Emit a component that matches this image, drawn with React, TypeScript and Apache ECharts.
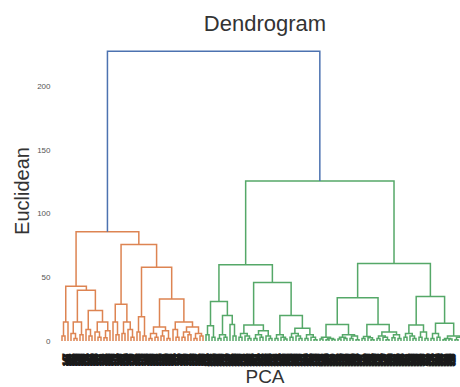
import React, { useEffect, useRef } from "react";
import * as echarts from "echarts";

// Dendrogram structure: a node is [mergeHeight, left, right]; a leaf is its sample id.
type Node = number | [number, Node, Node];

const orangeA: Node = [43,
  [15, [4, 112, 147], 103],
  [40,
    [15, [6, 131, [2, 158, 120]], [5, 166, 109]],
    [24,
      [9, 174, [4, 101, 139]],
      [15, [7, 155, [3, 127, 118]], [8, [2.5, 162, 143], 106]]
    ]
  ]
];

const orangeB: Node = [76,
  [29,
    [15, 170, [5, 114, 135]],
    [15, [6, 152, 124], [9, 168, [3, 110, 141]]]
  ],
  [58,
    [19, [7, 133, 176], [4, 116, 160]],
    [33,
      [11, [6, [2, 105, 149], [3, 128, 171]], [8, [4, 137, 122], [2, 157, 145]]],
      [15, [9, 164, [3, 111, 130]], [11, [7, [3, 153, 119], [5, 172, 138]], [6, [2, 126, 161], [4, 108, 150]]]]
    ]
  ]
];

const greenC: Node = [60,
  [31,
    [12, [5, 214, 263], [3, 231, 287]],
    [20, [5, [2, 205, 249], [3, 272, 226]], [13, 291, [4, 238, 256]]]
  ],
  [46,
    [12.6, [6, [3, 219, 278], [4, 243, [2, 296, 208]]], [8, [5, [2, 267, 234], [3, 282, 212]], [4, 253, [2, 299, 227]]]],
    [20, [5, [2, 245, 274], [3, 203, [1.5, 289, 260]]], [10, [6, [3, 216, 285], [4, 239, [2, 270, 222]]], [5, [2, 294, 251], [3, 209, [1, 276, 236]]]]]
  ]
];

const greenD: Node = [61,
  [34,
    [13, [3, [1.5, 318, 342], [2, [1, 305, 367], [1.2, 329, 351]]], [5, [3, [1.5, 312, 376], [2, 338, 360]], [4, [2, 302, 385], [1, 323, 347]]]],
    [13, [3.5, [2, 371, 309], [2.5, 356, [1, 334, 389]]], [7, [4, [2, 315, 344], [3, 379, [1, 301, 362]]], [5, [2.5, 327, 392], [2, 340, 353]]]]
  ],
  [35,
    [12.6, [6, [3, 307, 383], [4, 336, [2, 369, 320]]], [7, [3, 358, 395], [2, 311, 346]]],
    [14, [6, [2, 374, 331], [3, 364, 398]], [4, [2, [1, 317, 350], [1.5, 386, 325]], [3, [1, 303, 377], [2, 341, [1, 366, 394]]]]]
  ]
];

const orangeTopHeight = 86;
const greenTopHeight = 126;
const rootHeight = 228;

const yTicks = [0, 50, 100, 150, 200];
const palette = ["#4c72b0", "#dd8452", "#55a868"];

// Build links from the tree (layout only).
const leafIds: string[] = [];
const links: number[][] = [];
function walk(node: Node, colorIdx: number): { x: number; h: number } {
  if (typeof node === "number") {
    const x = leafIds.length + 0.5;
    leafIds.push(String(node));
    return { x, h: 0 };
  }
  const [h, a, b] = node;
  const l = walk(a, colorIdx);
  const r = walk(b, colorIdx);
  links.push([l.x, l.h, r.x, r.h, h, colorIdx]);
  return { x: (l.x + r.x) / 2, h };
}
const oTop = walk([orangeTopHeight, orangeA, orangeB], 1);
const gTop = walk([greenTopHeight, greenC, greenD], 2);
links.push([oTop.x, oTop.h, gTop.x, gTop.h, rootHeight, 0]);

const FONT = "Liberation Sans, Arial, sans-serif";
const GRID_LEFT = 60.5;
const LEAF_PX = 3;
const VISIBLE_WIDTH = 460;

export default function App() {
  const ref = useRef<HTMLDivElement>(null);
  useEffect(() => {
    document.body.style.margin = "0";
    if (!ref.current) return;
    const chart = echarts.init(ref.current, null, { renderer: "svg" });
    const n = leafIds.length;
    chart.setOption({
      animation: false,
      backgroundColor: "#ffffff",
      textStyle: { fontFamily: FONT },
      grid: { left: GRID_LEFT, top: 36, width: n * LEAF_PX, height: 305 },
      xAxis: [
        { type: "value", min: 0, max: n, show: false },
        {
          type: "category",
          data: leafIds,
          position: "bottom",
          boundaryGap: true,
          axisLine: { show: false },
          axisTick: { show: false },
          splitLine: { show: false },
          axisLabel: {
            // only labels that fit inside the visible page
            interval: (i: number) => GRID_LEFT + (i + 0.5) * LEAF_PX + 4 <= VISIBLE_WIDTH,
            rotate: 90,
            fontSize: 7,
            fontWeight: "bold",
            margin: 13,
            color: "#1a1a1a",
            textBorderColor: "#1a1a1a",
            textBorderWidth: 1.6,
            fontFamily: FONT,
          },
        },
      ],
      yAxis: {
        type: "value",
        min: 0,
        max: 240,
        interval: 50,
        axisLine: { show: false },
        axisTick: { show: false },
        splitLine: { show: false },
        axisLabel: {
          fontSize: 8,
          color: "#555555",
          margin: 10,
          fontFamily: FONT,
          formatter: (v: number) => (yTicks.includes(v) ? String(v) : ""),
        },
      },
      series: [
        {
          type: "custom",
          xAxisIndex: 0,
          yAxisIndex: 0,
          data: links,
          encode: { x: [0, 2], y: [1, 3, 4] },
          renderItem: (_params: any, api: any) => {
            const p1 = api.coord([api.value(0), api.value(1)]);
            const p2 = api.coord([api.value(0), api.value(4)]);
            const p3 = api.coord([api.value(2), api.value(4)]);
            const p4 = api.coord([api.value(2), api.value(3)]);
            return {
              type: "polyline",
              shape: { points: [p1, p2, p3, p4] },
              style: { stroke: palette[api.value(5)], fill: "none", lineWidth: 1.5 },
            };
          },
        },
      ],
      graphic: [
        {
          type: "text",
          x: 265,
          y: 23,
          style: {
            text: "Dendrogram",
            fontSize: 22,
            fontFamily: FONT,
            fill: "#333333",
            textAlign: "center",
            textVerticalAlign: "middle",
          },
        },
        {
          type: "text",
          x: 22,
          y: 191,
          rotation: Math.PI / 2,
          style: {
            text: "Euclidean",
            fontSize: 20,
            fontFamily: FONT,
            fill: "#333333",
            textAlign: "center",
            textVerticalAlign: "middle",
          },
        },
        {
          type: "text",
          x: 265,
          y: 376,
          style: {
            text: "PCA",
            fontSize: 19,
            fontFamily: FONT,
            fill: "#333333",
            textAlign: "center",
            textVerticalAlign: "middle",
          },
        },
      ],
    });
    return () => chart.dispose();
  }, []);
  return (
    <div
      style={{ position: "absolute", left: 0, top: 0, width: 460, height: 387, overflow: "hidden" }}
    >
      <div ref={ref} style={{ width: 472, height: 387 }} />
    </div>
  );
}
